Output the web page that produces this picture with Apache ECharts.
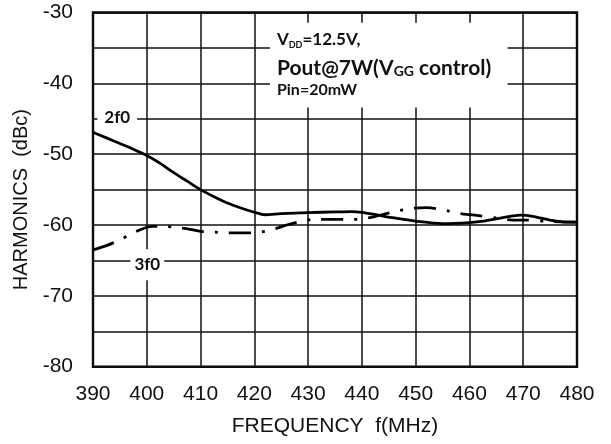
<!DOCTYPE html>
<html>
<head>
<meta charset="utf-8">
<script src="https://cdn.jsdelivr.net/npm/echarts@6/dist/echarts.min.js"></script>
<style>
html,body{margin:0;padding:0;background:#fff;}
#chart{width:611px;height:444px;}
</style>
</head>
<body>
<div id="chart"></div>
<script>
// ---- data ----
var xTicks = [390, 400, 410, 420, 430, 440, 450, 460, 470, 480];
var yTicks = [-80, -70, -60, -50, -40, -30];

var freq2f0 = [390, 392.5, 395, 397.5, 400, 402.5, 405, 407.5, 410, 412.5, 415, 417.5, 420, 422, 425, 430, 435, 438, 440, 443, 446, 450, 455, 460, 463, 466, 469.5, 472, 475, 478, 480];
var harm2f0 = [-46.9, -47.7, -48.5, -49.3, -50.2, -51.3, -52.6, -53.8, -55.0, -56.0, -56.9, -57.6, -58.2, -58.55, -58.4, -58.25, -58.15, -58.1, -58.2, -58.6, -59.0, -59.45, -59.8, -59.65, -59.4, -59.0, -58.6, -58.8, -59.3, -59.6, -59.6];

var freq3f0 = [390, 392.5, 395, 397, 399, 401, 403.6, 406, 408, 410, 412.7, 415, 418, 420, 422, 424, 426, 428.5, 431, 435, 438, 440, 442.4, 444.5, 446.7, 449.4, 452, 456, 458.3, 461, 465, 468, 470, 475, 480];
var harm3f0 = [-63.5, -62.9, -62.1, -61.3, -60.6, -60.2, -60.2, -60.4, -60.6, -60.9, -61.0, -61.1, -61.1, -61.1, -60.9, -60.5, -60.0, -59.5, -59.2, -59.2, -59.2, -59.15, -58.8, -58.4, -58.0, -57.65, -57.55, -58.0, -58.4, -58.6, -59.0, -59.3, -59.3, -59.5, -59.6];

var label2f0 = {text: '2f0', at: [394.5, -44.8]};
var label3f0 = {text: '3f0', at: [400.1, -65.6]};
var noteBox = {from: [422.9, -31.45], to: [467.1, -43.4]};

function pairs(xs, ys) { return xs.map(function (x, i) { return [x, ys[i]]; }); }

var gridColor = '#111';
var chart = echarts.init(document.getElementById('chart'));
chart.setOption({
  animation: false,
  backgroundColor: '#fff',
  grid: {
    left: 93, right: 34, top: 12.5, bottom: 77.3,
    show: true, borderColor: '#000', borderWidth: 2.4,
    outerBoundsMode: 'none'
  },
  xAxis: {
    type: 'value',
    min: xTicks[0], max: xTicks[xTicks.length - 1], interval: 10,
    name: 'FREQUENCY  f(MHz)',
    nameLocation: 'middle', nameGap: 49,
    nameTextStyle: {fontFamily: 'Liberation Sans', fontSize: 21, color: '#111'},
    axisLine: {show: false},
    axisTick: {show: false},
    axisLabel: {fontFamily: 'Liberation Sans', fontSize: 21, color: '#111', margin: 17},
    splitLine: {show: true, lineStyle: {color: gridColor, width: 1.5}}
  },
  yAxis: {
    type: 'value',
    min: yTicks[0], max: yTicks[yTicks.length - 1], interval: 10,
    name: 'HARMONICS  (dBc)',
    nameLocation: 'middle', nameGap: 58, nameRotate: 90,
    nameTextStyle: {fontFamily: 'Liberation Sans', fontSize: 20, color: '#111', padding: [0, 20, 0, 0]},
    axisLine: {show: false},
    axisTick: {show: false},
    minorTick: {show: false, splitNumber: 2},
    minorSplitLine: {show: true, lineStyle: {color: gridColor, width: 1.5}},
    axisLabel: {fontFamily: 'Liberation Sans', fontSize: 21, color: '#111', margin: 20},
    splitLine: {show: true, lineStyle: {color: gridColor, width: 1.5}}
  },
  series: [
    {
      name: '2f0',
      type: 'line',
      data: pairs(freq2f0, harm2f0),
      smooth: 0.3,
      showSymbol: false,
      symbol: 'none',
      lineStyle: {color: '#000', width: 2.8},
      z: 5,
      markPoint: {
        symbol: 'rect', symbolSize: 1, silent: true,
        itemStyle: {color: 'rgba(0,0,0,0)'},
        label: {
          show: true, position: 'inside', formatter: label2f0.text,
          fontFamily: 'Lato', fontWeight: 'bold', fontSize: 17, color: '#111',
          backgroundColor: '#fff', padding: [1, 7, 1, 7]
        },
        data: [{coord: label2f0.at}]
      },
      markArea: {
        silent: true,
        itemStyle: {color: '#fff', opacity: 1, borderWidth: 0},
        label: {
          show: true, position: 'insideTopLeft', distance: 0,
          padding: [4, 0, 0, 7],
          formatter: '{a|V}{as|DD}{a|=12.5V,}\n{b|Pout@7W(V}{bs|GG}{b| control)}\n{c|Pin=20mW}',
          rich: {
            a: {fontFamily: 'Lato', fontWeight: 'bold', fontSize: 17, color: '#111', lineHeight: 26},
            as: {fontFamily: 'Lato', fontWeight: 'bold', fontSize: 9, color: '#111', lineHeight: 26, padding: [10, 0, 0, 0]},
            b: {fontFamily: 'Lato', fontWeight: 'bold', fontSize: 21, color: '#111', lineHeight: 30},
            bs: {fontFamily: 'Lato', fontWeight: 'bold', fontSize: 14, color: '#111', lineHeight: 30, padding: [8, 0, 0, 0]},
            c: {fontFamily: 'Lato', fontWeight: 'bold', fontSize: 16, color: '#111', lineHeight: 14}
          }
        },
        data: [[{coord: noteBox.from}, {coord: noteBox.to}]]
      }
    },
    {
      name: '3f0',
      type: 'line',
      data: pairs(freq3f0, harm3f0),
      smooth: 0.3,
      showSymbol: false,
      symbol: 'none',
      lineStyle: {color: '#000', width: 2.8, type: [22, 11, 3, 11], cap: 'butt'},
      z: 4,
      markPoint: {
        symbol: 'rect', symbolSize: 1, silent: true,
        itemStyle: {color: 'rgba(0,0,0,0)'},
        label: {
          show: true, position: 'inside', formatter: label3f0.text,
          fontFamily: 'Lato', fontWeight: 'bold', fontSize: 17, color: '#111',
          backgroundColor: '#fff', padding: [12, 4, 2, 4]
        },
        data: [{coord: label3f0.at}]
      }
    }
  ]
});
</script>
</body>
</html>
